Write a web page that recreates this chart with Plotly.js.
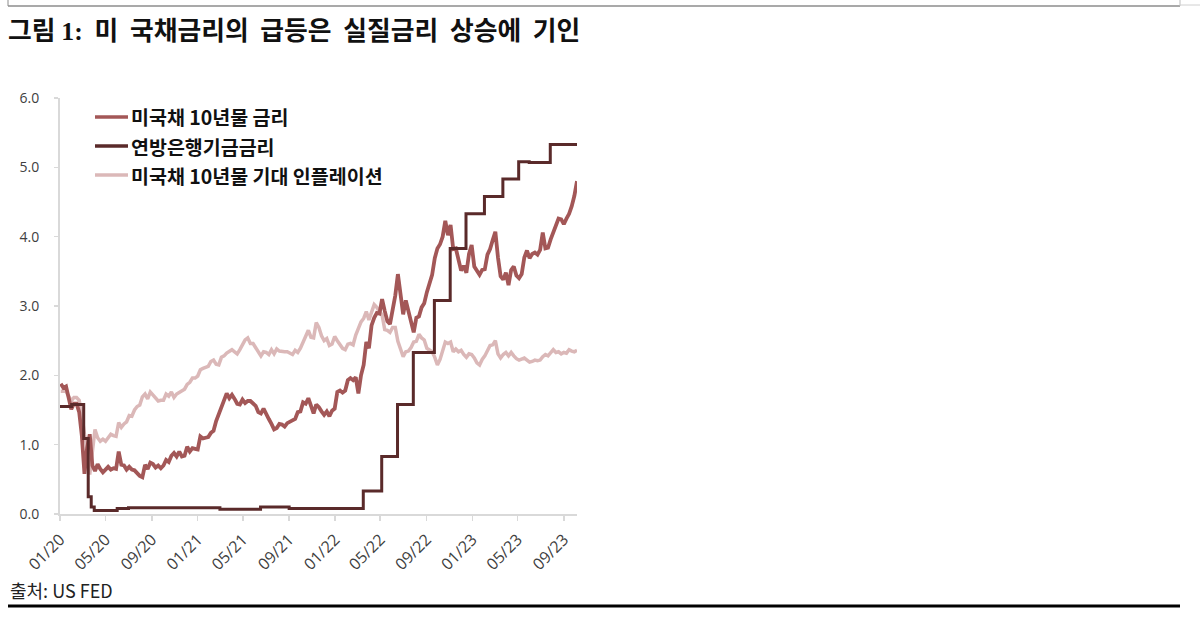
<!DOCTYPE html>
<html>
<head>
<meta charset="utf-8">
<script src="https://cdn.plot.ly/plotly-3.0.1.min.js"></script>
<style>html,body{margin:0;padding:0;background:#fff;}#chart{width:1200px;height:631px;}</style>
</head>
<body>
<div id="chart"></div>
<script>
// Weekly (Friday) observations, first week 2020-01-03
const weekStart = '2020-01-03';
// US 10Y Treasury yield (%)
const y10_2020 = [1.88,1.82,1.84,1.70,1.51, 1.59,1.59,1.47,1.13, 0.58,0.95,1.15,0.70, 0.62,0.72,0.65,0.60, 0.64,0.68,0.64,0.66,0.65, 0.90,0.71,0.70,0.64, 0.68,0.64,0.63,0.59,0.55, 0.53,0.71,0.65,0.74, 0.72,0.67,0.70,0.66, 0.70,0.78,0.75,0.84,0.88, 0.83,0.90,0.83,0.84, 0.97,0.90,0.95,0.94];
const y10_2021 = [0.93,1.12,1.09,1.10,1.11, 1.17,1.20,1.34,1.44, 1.57,1.64,1.74,1.67, 1.72,1.66,1.59,1.58,1.65, 1.60,1.63,1.63,1.59, 1.56,1.47,1.45,1.52, 1.43,1.37,1.30,1.22,1.24, 1.30,1.29,1.26,1.31, 1.33,1.34,1.37,1.47, 1.48,1.61,1.59,1.67,1.55, 1.45,1.58,1.54,1.48, 1.43,1.48,1.41,1.49,1.52];
const y10_2022 = [1.76,1.78,1.75,1.78, 1.93,1.96,1.93,1.97, 1.74,2.00,2.15,2.48, 2.39,2.72,2.83,2.90,2.89, 3.10,2.93,2.78,2.74, 2.96,3.15,3.46,3.13, 2.88,3.08,2.93,2.78,2.62, 2.83,2.85,2.98,3.04, 3.20,3.33,3.45,3.69,3.83, 3.89,4.00,4.23,4.02, 4.17,3.82,3.83,3.68, 3.51,3.58,3.48,3.75,3.88];
const y10_2023 = [3.57,3.51,3.45,3.52, 3.53,3.74,3.82,3.95, 4.07,3.70,3.43,3.38,3.48, 3.30,3.52,3.57,3.44, 3.40,3.46,3.70,3.80, 3.69,3.75,3.77,3.74,3.81, 4.06,3.83,3.84,3.96, 4.05,4.16,4.26,4.25, 4.18,4.26,4.33,4.44,4.59, 4.80];
// US 10Y breakeven inflation (%)
const bei_2020 = [1.77,1.77,1.77,1.70,1.63, 1.68,1.68,1.64,1.44, 1.15,0.95,0.57,0.90, 1.22,1.10,1.05,1.08, 1.05,1.10,1.15,1.13,1.12, 1.32,1.25,1.30,1.33, 1.42,1.41,1.50,1.55,1.57, 1.69,1.73,1.66,1.76, 1.71,1.67,1.63,1.64, 1.64,1.73,1.70,1.76,1.68, 1.73,1.75,1.77,1.80, 1.87,1.90,1.96,1.96];
const bei_2021 = [1.99,2.08,2.10,2.12,2.13, 2.20,2.22,2.16,2.15, 2.26,2.28,2.32,2.35, 2.37,2.34,2.31,2.37,2.43, 2.51,2.54,2.46,2.46, 2.40,2.34,2.28,2.34, 2.33,2.30,2.37,2.31,2.38, 2.35,2.34,2.34,2.34, 2.32,2.30,2.36,2.33, 2.39,2.48,2.57,2.65,2.55, 2.54,2.76,2.69,2.57, 2.50,2.53,2.43,2.45,2.56];
const bei_2022 = [2.50,2.45,2.39,2.37, 2.45,2.46,2.44,2.58, 2.69,2.77,2.82,2.92, 2.80,2.92,3.02,2.98,2.93, 2.87,2.66,2.65,2.62, 2.69,2.69,2.49,2.38, 2.27,2.34,2.35,2.40,2.48, 2.49,2.59,2.54,2.51, 2.39,2.37,2.34,2.26,2.15, 2.23,2.37,2.48,2.46, 2.48,2.34,2.38,2.34, 2.36,2.30,2.26,2.31,2.30];
const bei_2023 = [2.25,2.18,2.15,2.23, 2.28,2.35,2.43,2.44, 2.50,2.31,2.25,2.30,2.33, 2.28,2.33,2.28,2.24, 2.22,2.23,2.25,2.22, 2.19,2.20,2.22,2.21,2.22, 2.27,2.30,2.28,2.33, 2.37,2.33,2.34,2.31, 2.33,2.32,2.37,2.35,2.34, 2.36];
// Effective federal funds rate (%), change dates
const ffDates = ['2020-01-01','2020-02-01','2020-03-04','2020-03-16','2020-03-24','2020-04-01','2020-06-01','2020-07-01','2021-03-01','2021-06-17','2021-09-01','2022-03-17','2022-05-05','2022-06-16','2022-07-28','2022-09-22','2022-11-03','2022-12-15','2023-02-02','2023-03-23','2023-05-04','2023-06-01','2023-07-27','2023-10-06'];
const ffVals = [1.55,1.58,1.09,0.25,0.10,0.05,0.08,0.09,0.07,0.10,0.08,0.33,0.83,1.58,2.33,3.08,3.83,4.33,4.58,4.83,5.08,5.07,5.33,5.33];
// Axis ticks
const tickDates = ['2020-01-01','2020-05-01','2020-09-01','2021-01-01','2021-05-01','2021-09-01','2022-01-01','2022-05-01','2022-09-01','2023-01-01','2023-05-01','2023-09-01'];
const tickLabels = ['01/20','05/20','09/20','01/21','05/21','09/21','01/22','05/22','09/22','01/23','05/23','09/23'];
const yTicks = [0,1,2,3,4,5,6];
const seriesNames = ['미국채 10년물 금리','연방은행기금금리','미국채 10년물 기대 인플레이션'];
const titleWords = ['그림', '1:', '미', '국채금리의', '급등은', '실질금리', '상승에', '기인'];
const sourceText = '출처: US FED';

// styles
const seriesColors = ['#a35757', '#5a2a2a', '#dbb8b8'];
const WEEK = 7*24*3600*1000;
const KR = '"Noto Sans CJK KR", "Noto Sans", sans-serif';

const y10 = [].concat(y10_2020, y10_2021, y10_2022, y10_2023);
const bei = [].concat(bei_2020, bei_2021, bei_2022, bei_2023);

const traces = [
  {type:'scatter', mode:'lines', name:seriesNames[2], x0:weekStart, dx:WEEK, y:bei,
   line:{color:seriesColors[2], width:3.5}},
  {type:'scatter', mode:'lines', name:seriesNames[0], x0:weekStart, dx:WEEK, y:y10,
   line:{color:seriesColors[0], width:3.8}},
  {type:'scatter', mode:'lines', name:seriesNames[1], x:ffDates, y:ffVals,
   line:{color:seriesColors[1], width:3, shape:'hv'}}
];

// plot area pixel geometry helpers for decorations
const L = 60, R = 577, T = 98, B = 514;
const px = v => (v - L) / (R - L);
const py = v => (B - v) / (B - T);

const NB = '\u00a0';
const gap = NB + NB;
const titleHtml = '<b>' + titleWords[0] + NB + '<span style="font-family:Liberation Serif">' + titleWords[1] + '</span>' + gap +
  titleWords.slice(2).join(gap) + '</b>';

const shapes = [
  {type:'line', xref:'paper', yref:'paper', x0:px(8), x1:px(1180), y0:py(6), y1:py(6), line:{color:'#8c8c8c', width:1.5}},
  {type:'line', xref:'paper', yref:'paper', x0:px(8), x1:px(8), y0:py(6), y1:py(-2), line:{color:'#8c8c8c', width:1}},
  {type:'line', xref:'paper', yref:'paper', x0:px(1180), x1:px(1180), y0:py(6), y1:py(-2), line:{color:'#bdbdbd', width:1}},
  {type:'line', xref:'paper', yref:'paper', x0:px(1180), x1:px(1200), y0:py(5), y1:py(5), line:{color:'#d0d0d0', width:1}},
  {type:'line', xref:'paper', yref:'paper', x0:px(8), x1:px(1180), y0:py(606), y1:py(606), line:{color:'#000', width:3}}
];
const annotations = [
  {text:sourceText, xref:'paper', yref:'paper', x:px(8), y:py(590), xanchor:'left', yanchor:'middle',
   showarrow:false, font:{family:KR, size:18, color:'#222'}}
];
// legend drawn as keys + labels
seriesNames.forEach((nm, i) => {
  const yy = 117 + 29*i;
  shapes.push({type:'line', xref:'paper', yref:'paper', x0:px(95), x1:px(128), y0:py(yy), y1:py(yy),
               line:{color:seriesColors[i], width:3.5}});
  annotations.push({text:'<b>' + nm + '</b>', xref:'paper', yref:'paper', x:px(129), y:py(yy), xanchor:'left', yanchor:'middle',
                    showarrow:false, font:{family:KR, size:19.5, color:'#111'}});
});

const layout = {
  width:1200, height:631,
  margin:{l:L, r:1200-R, t:T, b:631-B, pad:0},
  paper_bgcolor:'#fff', plot_bgcolor:'#fff',
  font:{family:KR, color:'#333'},
  showlegend:false,
  xaxis:{type:'date', range:['2020-01-01','2023-10-06'], tickmode:'array', tickvals:tickDates, ticktext:tickLabels,
         tickangle:-45, showgrid:false, zeroline:false, showline:true, linecolor:'#d9d9d9', linewidth:2,
         ticks:'outside', ticklen:5, tickcolor:'#d9d9d9', tickwidth:1.5, ticklabelstandoff:3,
         tickfont:{family:'"Open Sans", "Noto Sans", sans-serif', size:16, color:'#404040'}, fixedrange:true},
  yaxis:{range:[0,6], tickmode:'array', tickvals:yTicks, tickformat:'.1f',
         showgrid:false, zeroline:false, showline:true, linecolor:'#d9d9d9', linewidth:2,
         ticks:'outside', ticklen:4, tickcolor:'#d9d9d9', tickwidth:1.5, ticklabelstandoff:12,
         tickfont:{family:'"Open Sans", "Noto Sans", sans-serif', size:14, color:'#404040'}, fixedrange:true},
  title:{text:titleHtml, x:8/1200, xanchor:'left', xref:'container', y:1-31/631, yref:'container', yanchor:'middle',
         font:{family:KR, size:25.8, color:'#111'}},
  annotations:annotations,
  shapes:shapes
};
Plotly.newPlot('chart', traces, layout, {displayModeBar:false, staticPlot:true});
</script>
</body>
</html>
